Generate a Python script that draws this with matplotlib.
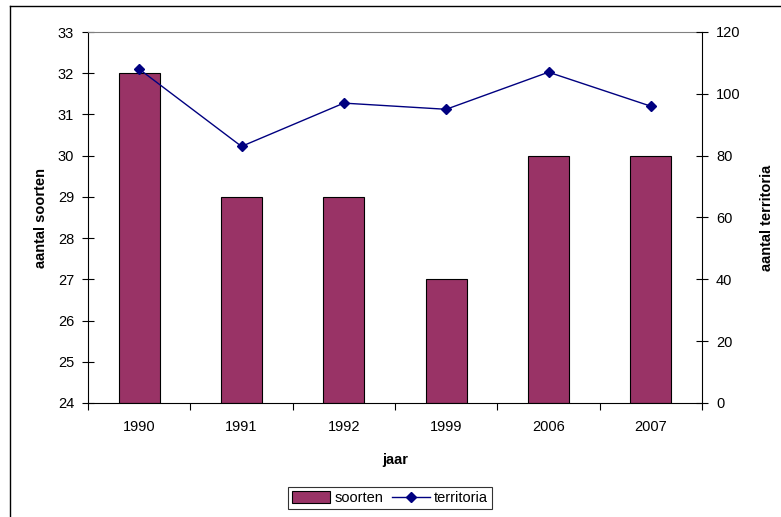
import matplotlib
matplotlib.use("Agg")
import matplotlib.pyplot as plt
from matplotlib.lines import Line2D
import numpy as np

plt.rcParams['font.family'] = ['Liberation Sans', 'DejaVu Sans']

years = ["1990", "1991", "1992", "1999", "2006", "2007"]
soorten = [32, 29, 29, 27, 30, 30]
territoria = [108, 83, 97, 95, 107, 96]

W, H = 781, 517
FS = 10.5
fig = plt.figure(figsize=(W/100, H/100), dpi=100)
ax = fig.add_axes([88/W, (H-403)/H, 614/W, 371/H])
x = np.arange(len(years))

ax.bar(x, np.array(soorten) - 24, bottom=24, width=0.4, color="#993366",
       edgecolor="black", linewidth=0.8, label="soorten", zorder=2)
ax.set_ylim(24, 33)
ax.set_yticks(range(24, 34))
ax.set_xlim(-0.5, len(years) - 0.5)
ax.set_xticks(x)
ax.set_xticklabels(years)
ax.set_xticks(np.arange(-0.5, len(years)), minor=True)
ax.tick_params(axis='x', which='major', length=0, pad=12, labelsize=FS)
ax.tick_params(axis='x', which='minor', length=5, width=0.8, direction='out')
ax.tick_params(axis='y', length=8, width=0.8, direction='inout', labelsize=FS, pad=6)
ax.set_ylabel("aantal soorten", fontsize=FS, fontweight='bold', labelpad=7)
ax.set_xlabel("jaar", fontsize=FS, fontweight='bold', labelpad=14)
ax.spines['top'].set_color('#808080')
ax.spines['top'].set_linewidth(0.8)
ax.spines['left'].set_linewidth(0.8)
ax.spines['bottom'].set_linewidth(0.8)
ax.spines['right'].set_visible(False)

ax2 = ax.twinx()
ax2.plot(x, territoria, color="#000080", marker='D', markersize=5.5, linewidth=1.0,
         label="territoria", zorder=3)
ax2.set_ylim(0, 120)
ax2.set_yticks(range(0, 121, 20))
ax2.tick_params(axis='y', length=8, width=0.8, direction='inout', labelsize=FS, pad=6)
ax2.set_ylabel("aantal territoria", fontsize=FS, fontweight='bold', labelpad=14)
for s in ['top', 'left', 'bottom']:
    ax2.spines[s].set_visible(False)
ax2.spines['right'].set_linewidth(0.8)

h1, l1 = ax.get_legend_handles_labels()
h2, l2 = ax2.get_legend_handles_labels()
leg = fig.legend(h1 + h2, l1 + l2, loc='center', bbox_to_anchor=(390/W, (H-498)/H),
                 ncol=2, frameon=True, fancybox=False, fontsize=FS,
                 handlelength=2.6, handleheight=0.8, columnspacing=0.6,
                 handletextpad=0.3, borderpad=0.3)
leg.get_frame().set_edgecolor('black')
leg.get_frame().set_linewidth(0.8)

# chart frame (only left and top edges fall inside the picture)
fig.add_artist(Line2D([9.5/W, 9.5/W], [0, (H-5.5)/H], transform=fig.transFigure,
                      color='black', linewidth=1.0))
fig.add_artist(Line2D([9.5/W, 1], [(H-5.5)/H, (H-5.5)/H], transform=fig.transFigure,
                      color='black', linewidth=1.0))

fig.savefig("out.png", dpi=100)
